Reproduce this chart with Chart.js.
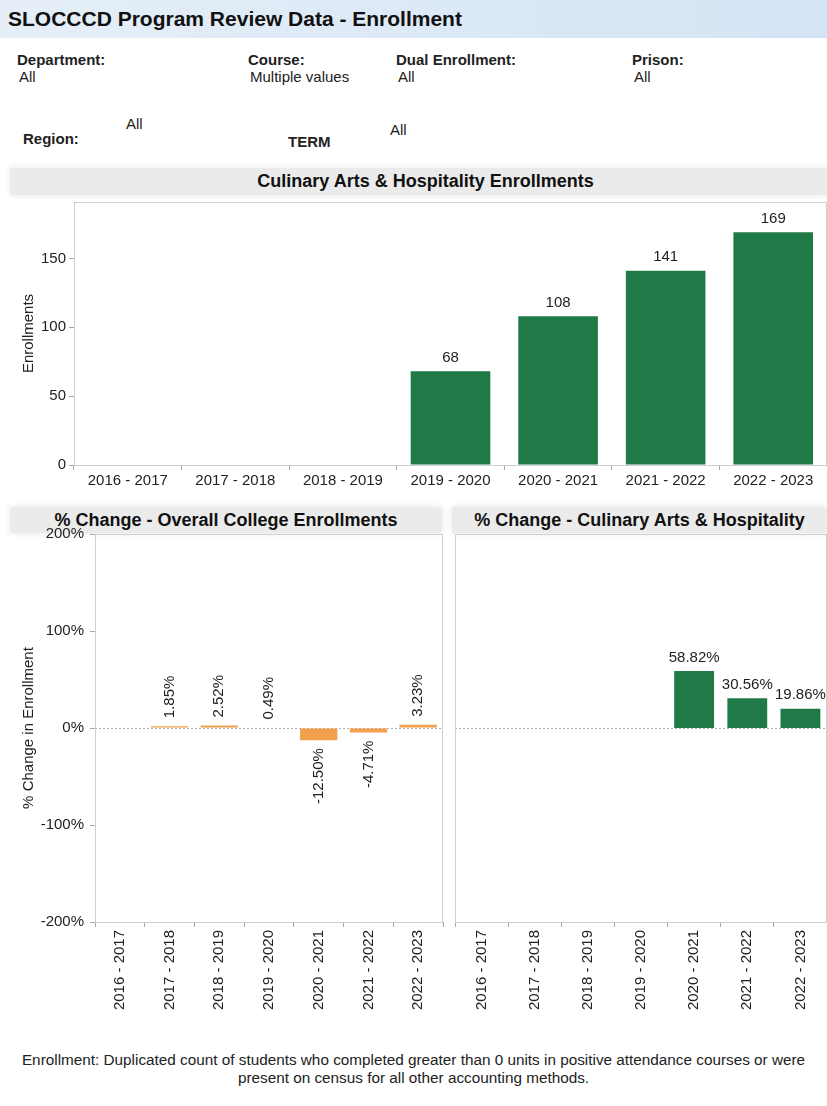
<!DOCTYPE html>
<html>
<head>
<meta charset="utf-8">
<script src="https://cdn.jsdelivr.net/npm/chart.js@4.4.0/dist/chart.umd.min.js"></script>
<style>
  body { margin: 0; width: 827px; height: 1106px; background: #fff; position: relative; overflow: hidden;
         font-family: "Liberation Sans", Arial, sans-serif; color: #222; }
  .abs { position: absolute; white-space: nowrap; }
  .topbar { left: 0; top: 0; width: 827px; height: 38px;
            background: linear-gradient(to right, #e6eff8, #d3e4f4); }
  .title { left: 8px; top: 7px; font-size: 21px; font-weight: bold; color: #111; }
  .lbl { font-size: 15px; font-weight: bold; }
  .val { font-size: 15px; }
  .hdr { background: #ebebeb; box-shadow: 0 0 5px 2px #f1f1f1; border-radius: 3px;
         font-size: 18px; font-weight: bold; text-align: center; line-height: 26px; color: #111; }
  .foot { left: 0; width: 827px; text-align: center; font-size: 15.3px; line-height: 18px; top: 1051px; }
  canvas { position: absolute; }
</style>
</head>
<body>
<div class="abs topbar"></div>
<div class="abs title">SLOCCCD Program Review Data - Enrollment</div>

<div class="abs lbl" style="left:17px;top:51px">Department:</div>
<div class="abs val" style="left:19px;top:68px">All</div>
<div class="abs lbl" style="left:248px;top:51px">Course:</div>
<div class="abs val" style="left:250px;top:68px">Multiple values</div>
<div class="abs lbl" style="left:396px;top:51px">Dual Enrollment:</div>
<div class="abs val" style="left:398px;top:68px">All</div>
<div class="abs lbl" style="left:632px;top:51px">Prison:</div>
<div class="abs val" style="left:634px;top:68px">All</div>
<div class="abs lbl" style="left:23px;top:130px">Region:</div>
<div class="abs val" style="left:126px;top:115px">All</div>
<div class="abs lbl" style="left:288px;top:133px">TERM</div>
<div class="abs val" style="left:390px;top:121px">All</div>

<div class="abs hdr" style="left:10px;top:168px;width:803px;padding-left:14px;height:27px;">Culinary Arts &amp; Hospitality Enrollments</div>
<div class="abs hdr" style="left:10px;top:507px;width:432px;">% Change - Overall College Enrollments</div>
<div class="abs hdr" style="left:452px;top:507px;width:375px;">% Change - Culinary Arts &amp; Hospitality</div>

<canvas id="enrollChart" width="817" height="300" style="left:10px;top:190px"></canvas>
<canvas id="collegeChart" width="440" height="511" style="left:10px;top:519px"></canvas>
<canvas id="culinaryChart" width="375" height="500" style="left:452px;top:530px"></canvas>

<div class="abs foot">Enrollment: Duplicated count of students who completed greater than 0 units in positive attendance courses or were<br>present on census for all other accounting methods.</div>

<script>
const terms = ['2016 - 2017', '2017 - 2018', '2018 - 2019', '2019 - 2020', '2020 - 2021', '2021 - 2022', '2022 - 2023'];
const enrollments = [null, null, null, 68, 108, 141, 169];
const collegeChange = [null, 1.85, 2.52, 0.49, -12.50, -4.71, 3.23];
const culinaryChange = [null, null, null, null, 58.82, 30.56, 19.86];
const enrollTicks = [0, 50, 100, 150];
const pctTicks = [-200, -100, 0, 100, 200];

const FONT = '"Liberation Sans", Arial, sans-serif';
const GREEN = '#1f7a47';
const ORANGE = '#f2a04c';
const AXIS = '#a8a8a8';

// values written at the end of each bar
const valueLabels = {
    id: 'valueLabels',
    afterDatasetsDraw(chart, args, opts) {
        const ctx = chart.ctx;
        const meta = chart.getDatasetMeta(0);
        const data = chart.data.datasets[0].data;
        ctx.save();
        ctx.font = '15px ' + FONT;
        ctx.fillStyle = '#222';
        meta.data.forEach((bar, i) => {
            let v = data[i];
            if (v == null) return;
            let txt = opts.fmt(v);
            if (opts.rotate) {
                ctx.save();
                ctx.translate(bar.x, v >= 0 ? bar.y - 8 : bar.y + 8);
                ctx.rotate(-Math.PI / 2);
                ctx.textAlign = v >= 0 ? 'left' : 'right';
                ctx.textBaseline = 'middle';
                ctx.fillText(txt, 0, 0);
                ctx.restore();
            } else {
                ctx.textAlign = 'center';
                ctx.textBaseline = 'bottom';
                ctx.fillText(txt, bar.x, bar.y - 6);
            }
        });
        ctx.restore();
    }
};

// frame round the plot and a dashed zero line
const frame = {
    id: 'frame',
    beforeDatasetsDraw(chart, args, opts) {
        const ctx = chart.ctx;
        const a = chart.chartArea;
        ctx.save();
        if (opts.zeroLine) {
            let y = Math.round(chart.scales.y.getPixelForValue(0)) + 0.5;
            ctx.strokeStyle = '#b0b0b0';
            ctx.setLineDash([2, 2]);
            ctx.lineWidth = 1;
            ctx.beginPath();
            ctx.moveTo(a.left, y);
            ctx.lineTo(a.right, y);
            ctx.stroke();
            ctx.setLineDash([]);
        }
        ctx.strokeStyle = '#cfcfcf';
        ctx.lineWidth = 1;
        ctx.strokeRect(Math.round(a.left) + 0.5, Math.round(a.top) + 0.5,
                       Math.round(a.right - a.left) - 1, Math.round(a.bottom - a.top));
        ctx.restore();
    }
};

function keepTicks(list) {
    return function (scale) {
        scale.ticks = list.map(v => ({ value: v }));
    };
}

new Chart(document.getElementById('enrollChart'), {
    type: 'bar',
    data: {
        labels: terms,
        datasets: [{ data: enrollments, backgroundColor: GREEN, categoryPercentage: 1, barPercentage: 0.74 }]
    },
    options: {
        responsive: false,
        animation: false,
        layout: { padding: { top: 7, left: 6 } },
        plugins: {
            legend: { display: false },
            tooltip: { enabled: false },
            valueLabels: { fmt: v => String(v) },
            frame: { zeroLine: false }
        },
        scales: {
            x: {
                grid: { drawOnChartArea: false, tickLength: 5, color: AXIS },
                border: { color: AXIS },
                ticks: { color: '#222', font: { family: FONT, size: 15 }, maxRotation: 0, minRotation: 0, padding: 2 },
                afterFit: s => { s.height = 25; }
            },
            y: {
                min: 0, max: 191,
                afterBuildTicks: keepTicks(enrollTicks),
                grid: { drawOnChartArea: false, tickLength: 5, color: AXIS },
                border: { color: AXIS },
                ticks: { color: '#222', font: { family: FONT, size: 15 }, padding: 3 },
                title: { display: true, text: 'Enrollments', color: '#222', font: { family: FONT, size: 15 } },
                afterFit: s => { s.width = 58; }
            }
        }
    },
    plugins: [valueLabels, frame]
});

function pctChart(id, values, color, showY, padLeft, padRight) {
    return new Chart(document.getElementById(id), {
        type: 'bar',
        data: {
            labels: terms,
            datasets: [{ data: values, backgroundColor: color, categoryPercentage: 1, barPercentage: 0.75 }]
        },
        options: {
            responsive: false,
            animation: false,
            layout: { padding: { top: 4, left: padLeft, right: padRight } },
            plugins: {
                legend: { display: false },
                tooltip: { enabled: false },
                valueLabels: showY
                    ? { fmt: v => v.toFixed(2) + '%', rotate: true }
                    : { fmt: v => v.toFixed(2) + '%' },
                frame: { zeroLine: true }
            },
            scales: {
                x: {
                    grid: { drawOnChartArea: false, tickLength: 5, color: AXIS },
                    border: { color: AXIS },
                    ticks: { color: '#222', font: { family: FONT, size: 15 }, maxRotation: 90, minRotation: 90, padding: 3 },
                    afterFit: s => { s.height = 108; }
                },
                y: {
                    display: showY,
                    min: -200, max: 200,
                    afterBuildTicks: keepTicks(pctTicks),
                    grid: { drawOnChartArea: false, tickLength: 5, color: AXIS },
                    border: { color: AXIS },
                    ticks: { color: '#222', font: { family: FONT, size: 15 }, padding: 6, callback: v => v + '%' },
                    title: { display: true, text: '% Change in Enrollment', color: '#222', font: { family: FONT, size: 15 } },
                    afterFit: s => { s.width = showY ? 79 : 0; }
                }
            }
        },
        plugins: [valueLabels, frame]
    });
}

pctChart('collegeChart', collegeChange, ORANGE, true, 6, 7);
pctChart('culinaryChart', culinaryChange, GREEN, false, 3, 0);
</script>
</body>
</html>
